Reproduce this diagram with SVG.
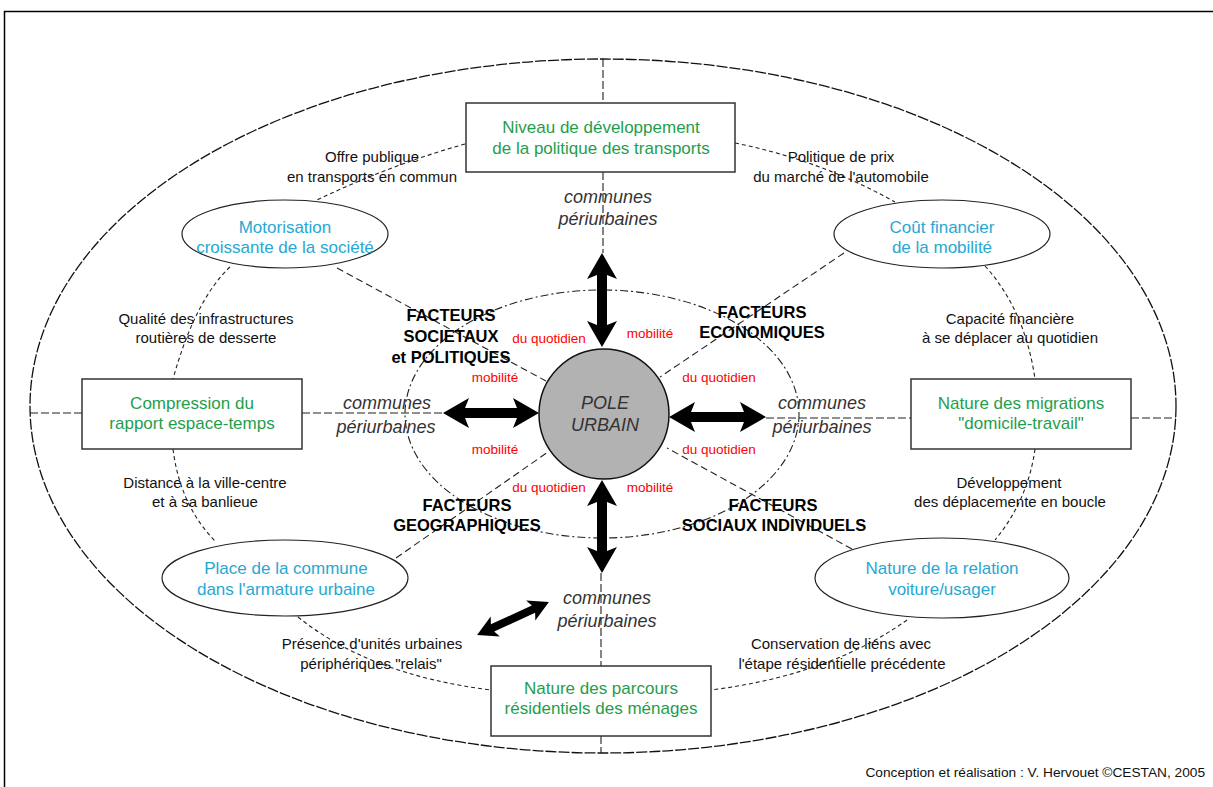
<svg xmlns="http://www.w3.org/2000/svg" width="1213" height="787" viewBox="0 0 1213 787">
<style>
text{font-family:"Liberation Sans",Arial,sans-serif;text-anchor:middle}
.box{fill:#fff;stroke:#333;stroke-width:1.5}
.ell{fill:#fff;stroke:#222;stroke-width:1.2}
.g{fill:#1f9e4c;font-size:17px}
.b{fill:#27a8d3;font-size:17px}
.lab{fill:#111;font-size:15px}
.fac{fill:#000;font-size:16.5px;font-weight:bold}
.red{fill:#f00;font-size:13.5px}
.com{fill:#333;font-size:18px;font-style:italic}
.outer{fill:none;stroke:#111;stroke-width:1.3;stroke-dasharray:11 2}
.inner{fill:none;stroke:#222;stroke-width:1.1;stroke-dasharray:8 3 2 3}
.diag{fill:none;stroke:#222;stroke-width:1.1;stroke-dasharray:7 4}
.axis{fill:none;stroke:#222;stroke-width:1.1;stroke-dasharray:8 3}
.cur{fill:none;stroke:#222;stroke-width:1.1;stroke-dasharray:4 3}
.arr{fill:#000}
</style>
<rect x="4.5" y="11.5" width="1215" height="790" fill="#fff" stroke="#000" stroke-width="1.5"/>
<ellipse class="outer" cx="603" cy="406" rx="573" ry="347"/>
<ellipse class="inner" cx="602" cy="414" rx="197" ry="124"/>
<g id="connectors">
<path class="axis" d="M603,59V103M603,172V253M601,573V666M601,736V753M30,413H82M302,413H443M766,418H911M1131,418H1176"/>
<path class="diag" d="M337,268L546,381M844,253L660,377M396,558L548,452M852,549L667,448"/>
<path class="cur" d="M465,144Q390,165 317,200"/>
<path class="cur" d="M735,143Q820,160 895,202"/>
<path class="cur" d="M230,267Q195,300 173,379"/>
<path class="cur" d="M173,449Q180,505 215,541"/>
<path class="cur" d="M985,266Q1025,310 1035,379"/>
<path class="cur" d="M1035,449Q1028,500 995,540"/>
<path class="cur" d="M298,617Q370,675 491,690"/>
<path class="cur" d="M907,620Q830,675 711,690"/>
<polygon class="arr" points="602,253 617,279 607,275 607,325 617,321 602,347 587,321 597,325 597,275 587,279"/>
<polygon class="arr" points="602,480 617,506 607,502 607,551 617,547 602,573 587,547 597,551 597,502 587,506"/>
<polygon class="arr" points="443,413 469,398 465,408 517,408 513,398 539,413 513,428 517,418 465,418 469,428"/>
<polygon class="arr" points="669,417 695,402 691,412 744,412 740,402 766,417 740,432 744,422 691,422 695,432"/>
<polygon class="arr" transform="translate(513,618.5) rotate(-24.6)" points="-39.5,0 -19.5,-11 -22.5,-4 22.5,-4 19.5,-11 39.5,0 19.5,11 22.5,4 -22.5,4 -19.5,11"/>
</g>
<g id="pole">
<circle cx="604" cy="414" r="65" fill="#b2b2b2" stroke="#111" stroke-width="1.5"/>
<text class="com" x="605" y="409">POLE</text>
<text class="com" x="605" y="431">URBAIN</text>
</g>
<g id="n-top">
<rect class="box" x="466" y="103" width="269" height="69"/>
<text class="g" x="601" y="133">Niveau de développement</text>
<text class="g" x="601" y="154">de la politique des transports</text>
</g>
<g id="n-left">
<rect class="box" x="82" y="379" width="220" height="70"/>
<text class="g" x="192" y="409">Compression du</text>
<text class="g" x="192" y="429">rapport espace-temps</text>
</g>
<g id="n-right">
<rect class="box" x="911" y="379" width="220" height="70"/>
<text class="g" x="1021" y="409">Nature des migrations</text>
<text class="g" x="1021" y="429">"domicile-travail"</text>
</g>
<g id="n-bottom">
<rect class="box" x="491" y="666" width="220" height="70"/>
<text class="g" x="601" y="694">Nature des parcours</text>
<text class="g" x="601" y="714">résidentiels des ménages</text>
</g>
<g id="n-motor">
<ellipse class="ell" cx="285" cy="234" rx="103" ry="34"/>
<text class="b" x="285" y="233">Motorisation</text>
<text class="b" x="285" y="253">croissante de la société</text>
</g>
<g id="n-cout">
<ellipse class="ell" cx="942" cy="234" rx="108" ry="34"/>
<text class="b" x="942" y="233">Coût financier</text>
<text class="b" x="942" y="253">de la mobilité</text>
</g>
<g id="n-place">
<ellipse class="ell" cx="285" cy="578" rx="123" ry="38"/>
<text class="b" x="286" y="574">Place de la commune</text>
<text class="b" x="286" y="595">dans l'armature urbaine</text>
</g>
<g id="n-relation">
<ellipse class="ell" cx="942" cy="578" rx="127" ry="40"/>
<text class="b" x="942" y="574">Nature de la relation</text>
<text class="b" x="942" y="595">voiture/usager</text>
</g>
<g id="labels">
<text class="lab" x="372" y="162">Offre publique</text>
<text class="lab" x="372" y="182">en transports en commun</text>
<text class="lab" x="841" y="162">Politique de prix</text>
<text class="lab" x="841" y="182">du marché de l'automobile</text>
<text class="lab" x="206" y="324">Qualité des infrastructures</text>
<text class="lab" x="206" y="343">routières de desserte</text>
<text class="lab" x="1010" y="324">Capacité financière</text>
<text class="lab" x="1010" y="343">à se déplacer au quotidien</text>
<text class="lab" x="205" y="488">Distance à la ville-centre</text>
<text class="lab" x="205" y="507">et à sa banlieue</text>
<text class="lab" x="1009" y="488">Développement</text>
<text class="lab" x="1010" y="507">des déplacemente en boucle</text>
<text class="lab" x="372" y="649">Présence d'unités urbaines</text>
<text class="lab" x="371" y="669">périphériques "relais"</text>
<text class="lab" x="841" y="649">Conservation de liens avec</text>
<text class="lab" x="842" y="669">l'étape résidentielle précédente</text>
<text class="fac" x="451" y="321">FACTEURS</text>
<text class="fac" x="451" y="342">SOCIETAUX</text>
<text class="fac" x="451" y="363">et POLITIQUES</text>
<text class="fac" x="762" y="318">FACTEURS</text>
<text class="fac" x="762" y="338">ECONOMIQUES</text>
<text class="fac" x="467" y="511">FACTEURS</text>
<text class="fac" x="467" y="531">GEOGRAPHIQUES</text>
<text class="fac" x="773" y="511">FACTEURS</text>
<text class="fac" x="774" y="531">SOCIAUX INDIVIDUELS</text>
<text class="red" x="549" y="343">du quotidien</text>
<text class="red" x="650" y="338">mobilité</text>
<text class="red" x="495" y="382">mobilité</text>
<text class="red" x="719" y="382">du quotidien</text>
<text class="red" x="495" y="454">mobilité</text>
<text class="red" x="719" y="454">du quotidien</text>
<text class="red" x="549" y="492">du quotidien</text>
<text class="red" x="650" y="492">mobilité</text>
<text class="com" x="608" y="203">communes</text>
<text class="com" x="608" y="225">périurbaines</text>
<text class="com" x="387" y="409">communes</text>
<text class="com" x="386" y="433">périurbaines</text>
<text class="com" x="822" y="409">communes</text>
<text class="com" x="822" y="433">périurbaines</text>
<text class="com" x="607" y="604">communes</text>
<text class="com" x="607" y="627">périurbaines</text>
<text x="1205" y="777" style="text-anchor:end;font-size:13.7px;fill:#111">Conception et réalisation : V. Hervouet ©CESTAN, 2005</text>
</g>
</svg>
